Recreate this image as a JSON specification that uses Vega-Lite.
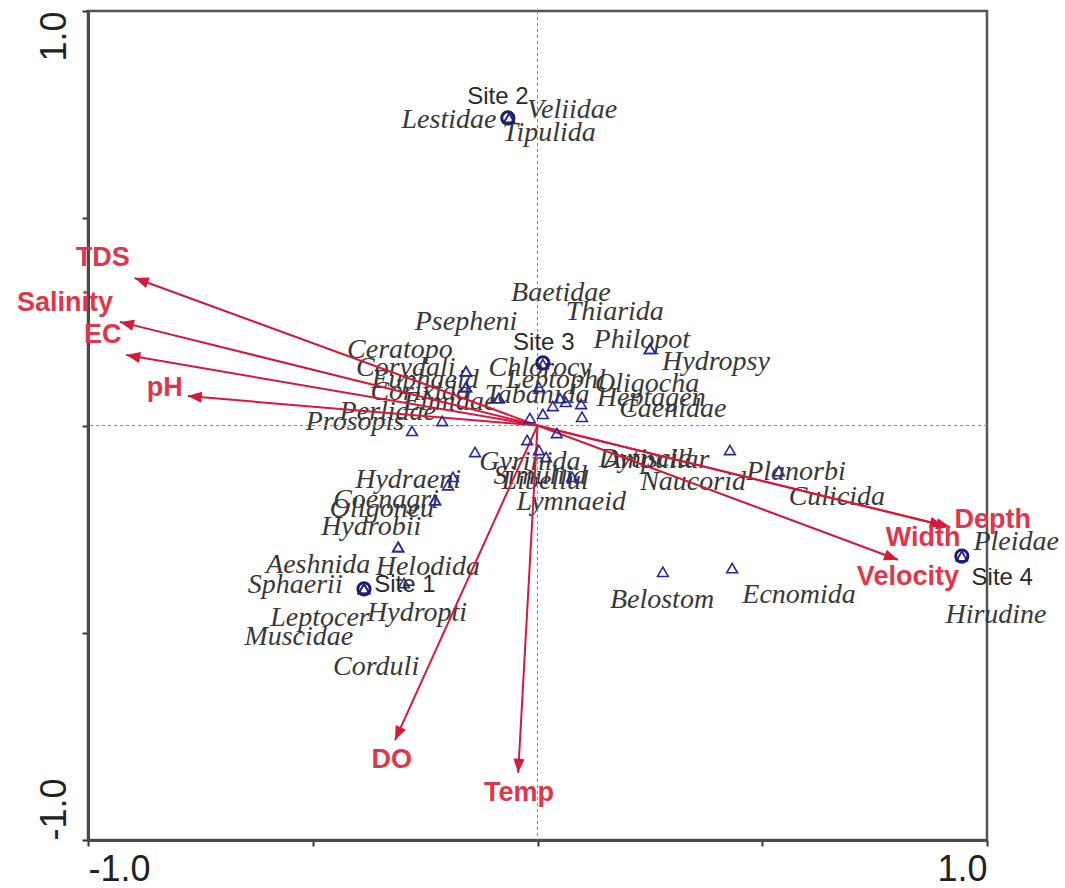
{
  "$schema": "https://vega.github.io/schema/vega-lite/v6.json",
  "width": 899,
  "height": 829,
  "autosize": {"type": "none"},
  "padding": {"left": 88, "top": 11, "right": 78, "bottom": 48},
  "background": "white",
  "view": {"stroke": "#555555", "strokeWidth": 2.5},
  "config": {
    "axis": {
      "grid": false,
      "title": null,
      "domainColor": "#4a4a4a",
      "domainWidth": 3,
      "tickColor": "#333333",
      "tickWidth": 2,
      "tickSize": 6,
      "labelFont": "Liberation Sans",
      "labelFontSize": 36,
      "labelColor": "#222222",
      "labelOverlap": false
    }
  },
  "datasets": {
    "env": [
      {"name": "TDS", "x": -0.896, "y": 0.356, "lx": -0.967, "ly": 0.404},
      {"name": "Salinity", "x": -0.929, "y": 0.25, "lx": -1.051, "ly": 0.296},
      {"name": "EC", "x": -0.915, "y": 0.17, "lx": -0.967, "ly": 0.218},
      {"name": "pH", "x": -0.778, "y": 0.071, "lx": -0.829, "ly": 0.09},
      {"name": "Depth", "x": 0.918, "y": -0.245, "lx": 1.013, "ly": -0.228},
      {"name": "Width", "x": 0.904, "y": -0.242, "lx": 0.858, "ly": -0.271},
      {"name": "Velocity", "x": 0.802, "y": -0.324, "lx": 0.824, "ly": -0.365},
      {"name": "DO", "x": -0.317, "y": -0.759, "lx": -0.324, "ly": -0.808},
      {"name": "Temp", "x": -0.043, "y": -0.838, "lx": -0.041, "ly": -0.887}
    ],
    "sites": [
      {"name": "Site 1", "x": -0.386, "y": -0.394, "lx": -0.295, "ly": -0.384},
      {"name": "Site 2", "x": -0.066, "y": 0.742, "lx": -0.088, "ly": 0.792},
      {"name": "Site 3", "x": 0.012, "y": 0.151, "lx": 0.014, "ly": 0.199},
      {"name": "Site 4", "x": 0.944, "y": -0.315, "lx": 1.034, "ly": -0.369}
    ],
    "species": [
      {"name": "Lestidae", "x": -0.063, "y": 0.742, "lx": -0.197, "ly": 0.737},
      {"name": "Veliidae", "x": -0.063, "y": 0.742, "lx": 0.077, "ly": 0.761},
      {"name": "Tipulida", "x": -0.063, "y": 0.742, "lx": 0.026, "ly": 0.706},
      {"name": "Baetidae", "x": 0.034, "y": 0.047, "lx": 0.052, "ly": 0.32},
      {"name": "Thiarida", "x": -0.017, "y": 0.018, "lx": 0.172, "ly": 0.274},
      {"name": "Psepheni", "x": -0.159, "y": 0.131, "lx": -0.159, "ly": 0.25},
      {"name": "Philopot", "x": 0.25, "y": 0.185, "lx": 0.232, "ly": 0.206},
      {"name": "Hydropsy", "x": 0.25, "y": 0.185, "lx": 0.397, "ly": 0.153},
      {"name": "Ceratopo", "x": -0.159, "y": 0.131, "lx": -0.306, "ly": 0.182},
      {"name": "Chlorocy", "x": 0.012, "y": 0.148, "lx": 0.006, "ly": 0.139},
      {"name": "Corydali", "x": -0.159, "y": 0.093, "lx": -0.293, "ly": 0.139},
      {"name": "Euphaeid", "x": -0.159, "y": 0.093, "lx": -0.25, "ly": 0.11},
      {"name": "Leptophl", "x": 0.003, "y": 0.093, "lx": 0.041, "ly": 0.11},
      {"name": "Oligocha", "x": 0.097, "y": 0.052, "lx": 0.244, "ly": 0.1},
      {"name": "Corixida", "x": -0.086, "y": 0.066, "lx": -0.261, "ly": 0.081},
      {"name": "Tabanida", "x": 0.05, "y": 0.066, "lx": -0.001, "ly": 0.074},
      {"name": "Heptagen", "x": 0.063, "y": 0.057, "lx": 0.253, "ly": 0.066},
      {"name": "Elmidae", "x": -0.086, "y": 0.066, "lx": -0.195, "ly": 0.057},
      {"name": "Caenidae", "x": 0.099, "y": 0.021, "lx": 0.301, "ly": 0.04},
      {"name": "Perlidae", "x": -0.212, "y": 0.011, "lx": -0.333, "ly": 0.033},
      {"name": "Prosopis", "x": -0.279, "y": -0.013, "lx": -0.406, "ly": 0.008},
      {"name": "Dytiscid", "x": 0.012, "y": 0.028, "lx": 0.24, "ly": -0.08},
      {"name": "Ampullar", "x": 0.043, "y": -0.018, "lx": 0.265, "ly": -0.083},
      {"name": "Gyrinida", "x": -0.139, "y": -0.064, "lx": -0.017, "ly": -0.088},
      {"name": "Simuliid", "x": -0.023, "y": -0.035, "lx": 0.006, "ly": -0.122},
      {"name": "Libellul", "x": 0.003, "y": -0.059, "lx": 0.017, "ly": -0.134},
      {"name": "Lymnaeid", "x": 0.019, "y": -0.076, "lx": 0.075, "ly": -0.185},
      {"name": "Naucorid", "x": 0.077, "y": -0.124, "lx": 0.346, "ly": -0.136},
      {"name": "Planorbi", "x": 0.537, "y": -0.11, "lx": 0.575, "ly": -0.112},
      {"name": "Culicida", "x": 0.428, "y": -0.059, "lx": 0.666, "ly": -0.172},
      {"name": "Hydraeni", "x": -0.188, "y": -0.124, "lx": -0.288, "ly": -0.131},
      {"name": "Coenagri", "x": -0.199, "y": -0.144, "lx": -0.337, "ly": -0.18},
      {"name": "Oligoneu", "x": -0.228, "y": -0.18, "lx": -0.346, "ly": -0.201},
      {"name": "Hydrobii", "x": -0.228, "y": -0.18, "lx": -0.37, "ly": -0.245},
      {"name": "Pleidae", "x": 0.944, "y": -0.315, "lx": 1.065, "ly": -0.281},
      {"name": "Aeshnida", "x": -0.31, "y": -0.293, "lx": -0.488, "ly": -0.337},
      {"name": "Helodida", "x": -0.31, "y": -0.293, "lx": -0.244, "ly": -0.341},
      {"name": "Sphaerii", "x": -0.386, "y": -0.394, "lx": -0.539, "ly": -0.384},
      {"name": "Ecnomida", "x": 0.433, "y": -0.344, "lx": 0.582, "ly": -0.409},
      {"name": "Belostom", "x": 0.279, "y": -0.353, "lx": 0.277, "ly": -0.421},
      {"name": "Hydropti", "x": -0.297, "y": -0.38, "lx": -0.268, "ly": -0.452},
      {"name": "Hirudine", "x": 0.944, "y": -0.315, "lx": 1.02, "ly": -0.457},
      {"name": "Leptocer", "x": -0.386, "y": -0.394, "lx": -0.484, "ly": -0.464},
      {"name": "Muscidae", "x": -0.386, "y": -0.394, "lx": -0.531, "ly": -0.51},
      {"name": "Corduli", "x": -0.386, "y": -0.394, "lx": -0.359, "ly": -0.583}
    ]
  },
  "layer": [
    {
      "data": {"name": "species"},
      "mark": {"type": "text", "font": "Liberation Serif", "fontStyle": "italic", "fontSize": 28, "color": "#383838", "align": "center", "baseline": "middle"},
      "encoding": {
        "x": {"field": "lx", "type": "quantitative", "scale": {"domain": [-1, 1], "nice": false, "zero": false},
          "axis": {"orient": "bottom", "values": [-1, -0.5, 0, 0.5, 1], "labelFlush": true, "labelPadding": 6,
            "labelExpr": "datum.value == 1 ? '1.0' : (datum.value == -1 ? '-1.0' : '')"}},
        "y": {"field": "ly", "type": "quantitative", "scale": {"domain": [-1, 1], "nice": false, "zero": false},
          "axis": {"orient": "left", "values": [-1, -0.5, 0, 0.5, 1], "labelAngle": -90, "labelBaseline": "alphabetic", "labelPadding": 17,
            "labelExpr": "datum.value == 1 ? '1.0' : (datum.value == -1 ? '-1.0' : '')",
            "labelAlign": {"expr": "datum.value > 0 ? 'right' : 'left'"}}},
        "text": {"field": "name"}
      }
    },
    {
      "data": {"name": "sites"},
      "mark": {"type": "rule", "color": "#8a8a8a", "strokeWidth": 1, "strokeDash": [3, 3]},
      "encoding": {"x": {"datum": 0, "type": "quantitative"}}
    },
    {
      "data": {"name": "sites"},
      "mark": {"type": "rule", "color": "#8a8a8a", "strokeWidth": 1, "strokeDash": [3, 3]},
      "encoding": {"y": {"datum": 0, "type": "quantitative"}}
    },
    {
      "data": {"name": "env"},
      "mark": {"type": "rule", "color": "#d41a3c", "strokeWidth": 2},
      "encoding": {
        "x": {"field": "x", "type": "quantitative"},
        "y": {"field": "y", "type": "quantitative"},
        "x2": {"datum": 0},
        "y2": {"datum": 0}
      }
    },
    {
      "data": {"name": "env"},
      "transform": [{"calculate": "atan2(datum.x * 899, datum.y * 829) * 180 / PI", "as": "heading"}],
      "mark": {"type": "point", "shape": "M0,0L-0.4,1L0.4,1Z", "filled": true, "color": "#d41a3c", "opacity": 1, "size": 784},
      "encoding": {
        "x": {"field": "x", "type": "quantitative"},
        "y": {"field": "y", "type": "quantitative"},
        "angle": {"field": "heading", "type": "quantitative", "scale": null}
      }
    },
    {
      "data": {"name": "species"},
      "mark": {"type": "point", "shape": "triangle-up", "filled": false, "color": "#28289a", "strokeWidth": 1.6, "size": 115, "opacity": 1},
      "encoding": {
        "x": {"field": "x", "type": "quantitative"},
        "y": {"field": "y", "type": "quantitative"}
      }
    },
    {
      "data": {"name": "sites"},
      "mark": {"type": "point", "shape": "circle", "filled": false, "color": "#1e1e6e", "strokeWidth": 3, "size": 150, "opacity": 1},
      "encoding": {
        "x": {"field": "x", "type": "quantitative"},
        "y": {"field": "y", "type": "quantitative"}
      }
    },
    {
      "data": {"name": "sites"},
      "mark": {"type": "text", "font": "Liberation Sans", "fontSize": 24, "color": "#2a2a2a", "align": "center", "baseline": "middle"},
      "encoding": {
        "x": {"field": "lx", "type": "quantitative"},
        "y": {"field": "ly", "type": "quantitative"},
        "text": {"field": "name"}
      }
    },
    {
      "data": {"name": "env"},
      "mark": {"type": "text", "font": "Liberation Sans", "fontWeight": "bold", "fontSize": 27, "color": "#e0364b", "align": "center", "baseline": "middle"},
      "encoding": {
        "x": {"field": "lx", "type": "quantitative"},
        "y": {"field": "ly", "type": "quantitative"},
        "text": {"field": "name"}
      }
    }
  ]
}
